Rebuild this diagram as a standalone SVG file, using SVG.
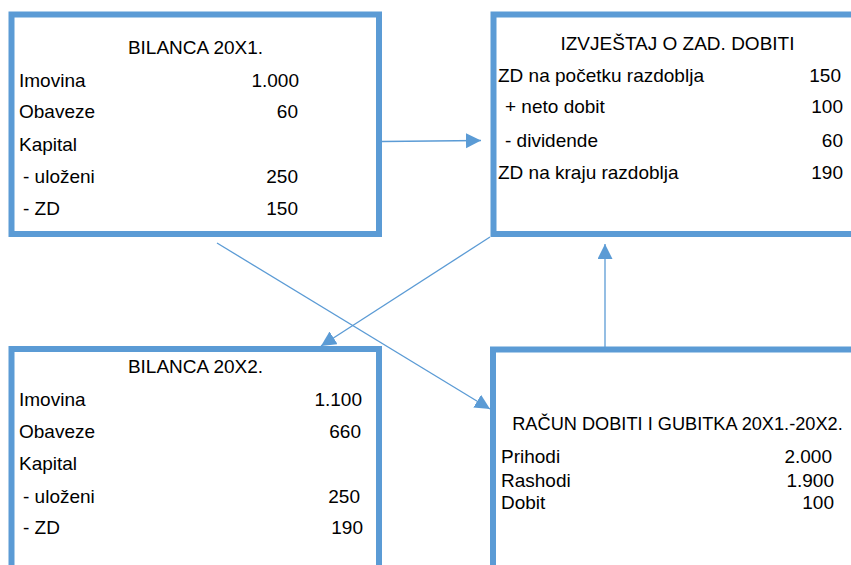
<svg xmlns="http://www.w3.org/2000/svg" width="851" height="565" viewBox="0 0 851 565">
<style>
.box{fill:#fff;stroke:#5B9BD5;stroke-width:6}
.t{font-family:"Liberation Sans",Arial,sans-serif;font-size:19px;fill:#000}
.c{text-anchor:middle}
.r{text-anchor:end}
.con{stroke:#5B9BD5;stroke-width:1.3;fill:none;marker-end:url(#ah)}
</style>
<defs>
<marker id="ah" markerUnits="userSpaceOnUse" markerWidth="16" markerHeight="16" refX="15" refY="7.5" orient="auto">
<path d="M0,0 L15,7.5 L0,15 z" fill="#5B9BD5"/>
</marker>
</defs>
<rect width="851" height="565" fill="#fff"/>
<g id="bilanca1">
<rect class="box" x="11.5" y="14.5" width="367.5" height="219.5"/>
<text class="t c" x="195.5" y="54">BILANCA 20X1.</text>
<text class="t" x="19" y="86.5">Imovina</text><text class="t r" x="299" y="86.5">1.000</text>
<text class="t" x="19" y="118">Obaveze</text><text class="t r" x="298" y="118">60</text>
<text class="t" x="19" y="150.5">Kapital</text>
<text class="t" x="23" y="183">- uloženi</text><text class="t r" x="298" y="183">250</text>
<text class="t" x="23" y="215">- ZD</text><text class="t r" x="298" y="215">150</text>
</g>
<g id="izvjestaj">
<rect class="box" x="493.5" y="14.5" width="362" height="219.5"/>
<text class="t c" x="677.5" y="50">IZVJEŠTAJ O ZAD. DOBITI</text>
<text class="t" x="498" y="81.5">ZD na početku razdoblja</text><text class="t r" x="841" y="81.5">150</text>
<text class="t" x="505" y="113">+ neto dobit</text><text class="t r" x="843" y="113">100</text>
<text class="t" x="505" y="146.5">- dividende</text><text class="t r" x="843" y="146.5">60</text>
<text class="t" x="498" y="179">ZD na kraju razdoblja</text><text class="t r" x="843" y="179">190</text>
</g>
<g id="bilanca2">
<rect class="box" x="11.5" y="349" width="367.5" height="222"/>
<text class="t c" x="195.5" y="372.5">BILANCA 20X2.</text>
<text class="t" x="19" y="406">Imovina</text><text class="t r" x="362" y="406">1.100</text>
<text class="t" x="19" y="438">Obaveze</text><text class="t r" x="361" y="438">660</text>
<text class="t" x="19" y="470">Kapital</text>
<text class="t" x="23" y="503">- uloženi</text><text class="t r" x="360" y="503">250</text>
<text class="t" x="23" y="534">- ZD</text><text class="t r" x="363" y="534">190</text>
</g>
<g id="racun">
<rect class="box" x="493" y="349.5" width="362" height="222"/>
<text class="t c" x="677.5" y="430" style="font-size:18.2px">RAČUN DOBITI I GUBITKA 20X1.-20X2.</text>
<text class="t" x="501" y="463">Prihodi</text><text class="t r" x="832" y="463">2.000</text>
<text class="t" x="501" y="486.5">Rashodi</text><text class="t r" x="834" y="486.5">1.900</text>
<text class="t" x="501" y="509">Dobit</text><text class="t r" x="834" y="509">100</text>
</g>
<g id="connectors">
<line class="con" x1="382" y1="141.5" x2="481" y2="140.5"/>
<line class="con" x1="217" y1="243" x2="490" y2="409"/>
<line class="con" x1="490" y1="237" x2="321" y2="346"/>
<line class="con" x1="605" y1="349" x2="605" y2="244"/>
</g>
</svg>
